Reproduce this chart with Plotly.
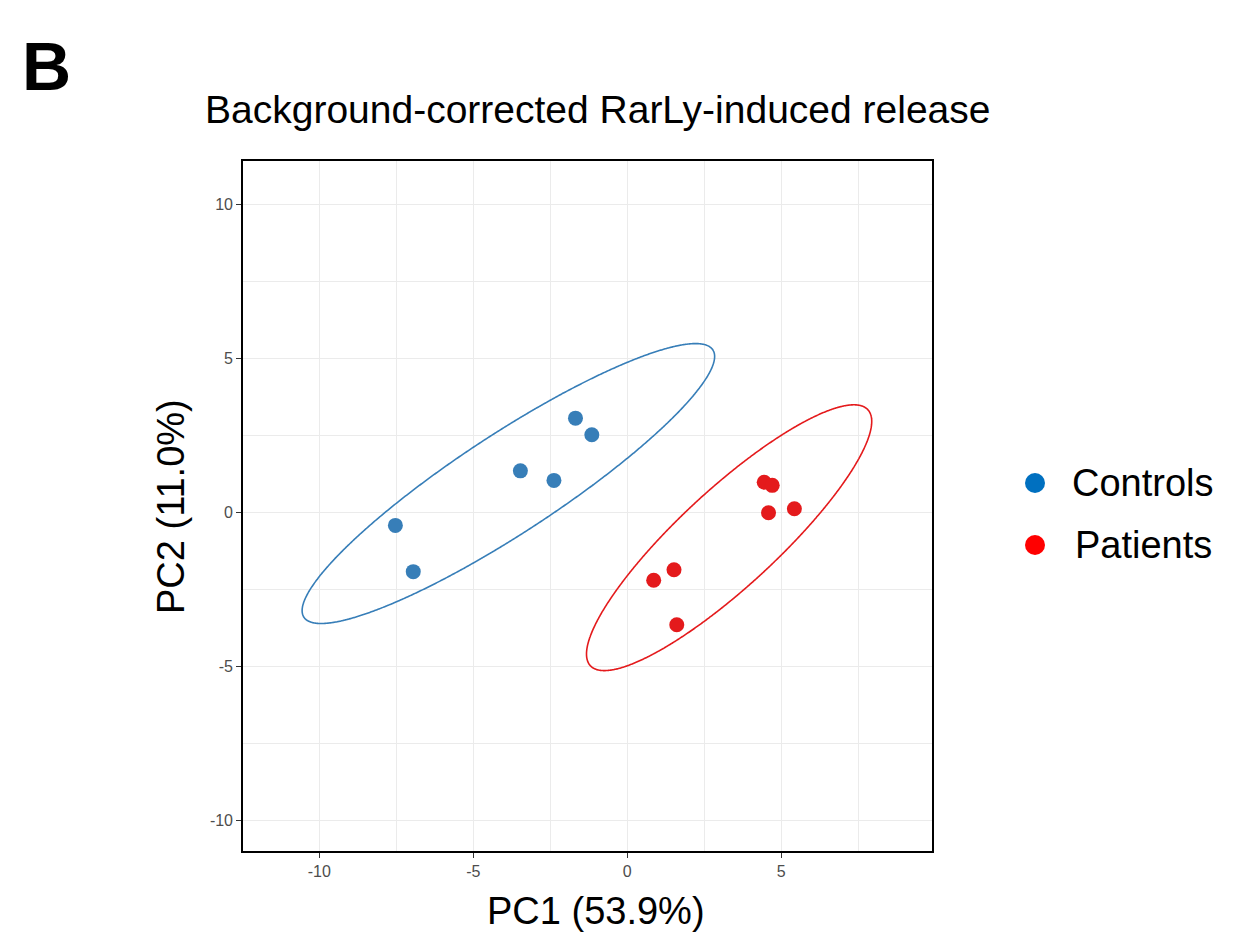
import numpy as np
import plotly.graph_objects as go

# ---- data ----
controls_pc1 = [-7.53, -6.95, -3.47, -2.38, -1.68, -1.15]
controls_pc2 = [-0.42, -1.92, 1.35, 1.04, 3.06, 2.52]
patients_pc1 = [0.86, 1.52, 1.61, 4.45, 4.71, 4.59, 5.43]
patients_pc2 = [-2.20, -1.86, -3.64, 0.98, 0.88, -0.01, 0.12]
group_names = ["Controls", "Patients"]
point_colors = ["#377EB8", "#E41A1C"]
legend_colors = ["#0070C0", "#FF0000"]

x_ticks = [-10, -5, 0, 5]
y_ticks = [-10, -5, 0, 5, 10]
x_range = [-12.48, 9.9]
y_range = [-10.98, 11.4]

CHI2_2DF_95 = 5.991464547  # chi-square quantile, 2 df, level 0.95


def confidence_ellipse(xs, ys, n=600):
    pts = np.column_stack([xs, ys])
    center = pts.mean(axis=0)
    cov = np.cov(pts, rowvar=False)
    L = np.linalg.cholesky(cov)
    t = np.linspace(0, 2 * np.pi, n)
    circle = np.vstack([np.cos(t), np.sin(t)])
    r = np.sqrt(CHI2_2DF_95)
    e = center[:, None] + r * (L @ circle)
    return e[0], e[1]


fig = go.Figure()

groups = [(controls_pc1, controls_pc2), (patients_pc1, patients_pc2)]
for (gx, gy), name, pc in zip(groups, group_names, point_colors):
    ex, ey = confidence_ellipse(gx, gy)
    fig.add_trace(go.Scatter(x=ex, y=ey, mode="lines",
                             line=dict(color=pc, width=1.6, shape="spline", smoothing=0.6),
                             showlegend=False, hoverinfo="skip"))
    fig.add_trace(go.Scatter(x=gx, y=gy, mode="markers",
                             marker=dict(color=pc, size=15),
                             name=name, showlegend=False))

W, H = 1256, 941
L_, R_, T_, B_ = 243, 324, 161, 90
pw, ph = W - L_ - R_, H - T_ - B_


def px_to_paper(px, py):
    return (px - L_) / pw, (H - B_ - py) / ph


axis_common = dict(
    showgrid=True, gridcolor="#EBEBEB", gridwidth=1,
    zeroline=False, showline=True, linecolor="black", linewidth=1.6,
    mirror=True, ticks="outside", ticklen=5, tickcolor="#333333",
    tickfont=dict(family="Liberation Sans, Arial", size=16, color="#4D4D4D"),
    minor=dict(dtick=2.5, tick0=-12.5, showgrid=True, gridcolor="#EBEBEB",
               gridwidth=1, ticks=""),
)

fig.update_xaxes(range=x_range, tickvals=x_ticks, ticktext=[str(v) for v in x_ticks],
                 **axis_common)
fig.update_yaxes(range=y_range, tickvals=y_ticks, ticktext=[str(v) for v in y_ticks],
                 **axis_common)

FONT = "Liberation Sans, Arial"
annotations = []
shapes = []
tx, ty = px_to_paper(597, 110)
annotations.append(dict(text="Background-corrected RarLy-induced release", x=tx, y=ty,
                        xref="paper", yref="paper", showarrow=False,
                        xanchor="center", yanchor="middle",
                        font=dict(family=FONT, size=39, color="black")))
bx, by = px_to_paper(20, 66)
annotations.append(dict(text="<b>B</b>", x=bx, y=by, xref="paper", yref="paper",
                        showarrow=False, xanchor="left", yanchor="middle",
                        font=dict(family=FONT, size=68, color="black")))
ax_, ay_ = px_to_paper(596, 911)
annotations.append(dict(text="PC1 (53.9%)", x=ax_, y=ay_, xref="paper", yref="paper",
                        showarrow=False, xanchor="center", yanchor="middle",
                        font=dict(family=FONT, size=38, color="black")))
yx, yy = px_to_paper(171, 507)
annotations.append(dict(text="PC2 (11.0%)", x=yx, y=yy, xref="paper", yref="paper",
                        showarrow=False, xanchor="center", yanchor="middle", textangle=-90,
                        font=dict(family=FONT, size=38, color="black")))

# manual legend
legend_rows = [(483, 1070), (545, 1073)]
for (cy, txp), name, lc in zip(legend_rows, group_names, legend_colors):
    x0, y1 = px_to_paper(1025, cy - 10)
    x1, y0 = px_to_paper(1045, cy + 10)
    shapes.append(dict(type="circle", xref="paper", yref="paper",
                       x0=x0, x1=x1, y0=y0, y1=y1,
                       fillcolor=lc, line=dict(width=0)))
    lx, ly = px_to_paper(txp, cy)
    annotations.append(dict(text=name, x=lx, y=ly, xref="paper", yref="paper",
                            showarrow=False, xanchor="left", yanchor="middle",
                            font=dict(family=FONT, size=38, color="black")))

fig.update_layout(
    width=W, height=H,
    margin=dict(l=L_, r=R_, t=T_, b=B_, autoexpand=False),
    paper_bgcolor="white", plot_bgcolor="white",
    annotations=annotations, shapes=shapes,
    showlegend=False,
)

fig.write_html("out.html")
